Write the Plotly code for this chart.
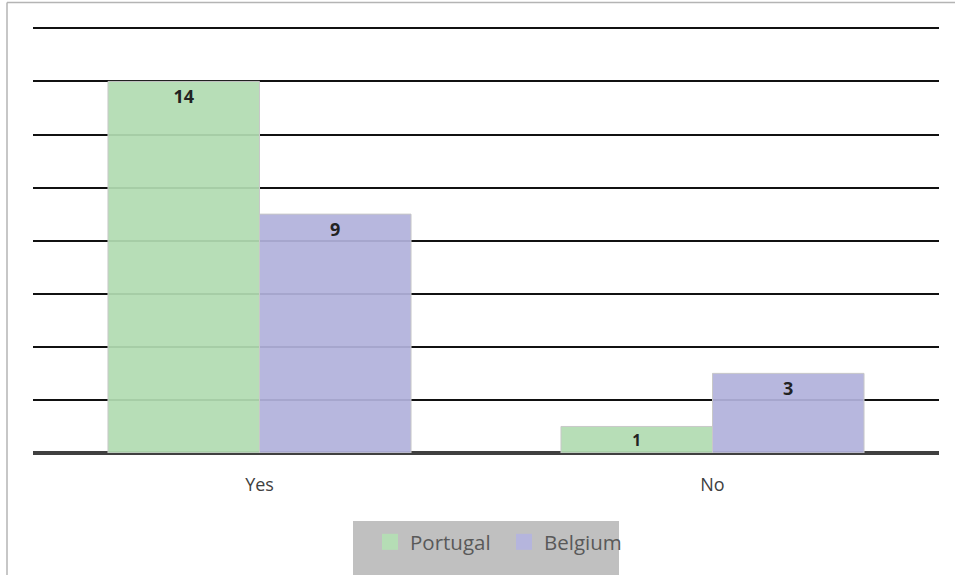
import plotly.graph_objects as go

categories = ["Yes", "No"]
portugal = [14, 1]
belgium = [9, 3]
series_names = ["Portugal", "Belgium"]
y_ticks = [0, 2, 4, 6, 8, 10, 12, 14, 16]

colors = ["rgba(178,220,178,0.93)", "rgba(178,178,220,0.93)"]
legend_colors = ["#b5ddb5", "#b5b5dd"]

W, H = 955, 575
L, R, T, B = 33, 16, 27, 122
pw, ph = W - L - R, H - T - B

def px_x(x):
    return (x - L) / pw

def px_y(y):
    return (H - B - y) / ph

fig = go.Figure()
for name, vals, col in zip(series_names, [portugal, belgium], colors):
    fig.add_trace(go.Bar(
        name=name, x=categories, y=vals, showlegend=False,
        marker=dict(color=col, line=dict(color="#c8c8c8", width=1)),
        text=vals, textposition="inside", insidetextanchor="end",
        textfont=dict(family="Open Sans", size=18, color="#222222", weight="bold"),
        textangle=0,
    ))
for name, col in zip(series_names, legend_colors):
    fig.add_trace(go.Scatter(
        name=name, x=[None], y=[None], mode="markers",
        marker=dict(symbol="square", size=18, color=col),
        showlegend=True,
    ))

shapes = [
    dict(type="rect", xref="paper", yref="paper",
         x0=px_x(353), x1=px_x(619), y0=px_y(521), y1=px_y(580),
         fillcolor="#c0c0c0", line=dict(width=0), layer="below"),
    dict(type="line", xref="paper", yref="paper",
         x0=px_x(7), x1=px_x(960), y0=px_y(2.5), y1=px_y(2.5),
         line=dict(color="#b4b4b4", width=1.5)),
    dict(type="line", xref="paper", yref="paper",
         x0=px_x(7), x1=px_x(7), y0=px_y(2.5), y1=px_y(580),
         line=dict(color="#b4b4b4", width=1.5)),
]

fig.update_layout(
    width=W, height=H,
    margin=dict(l=L, r=R, t=T, b=B),
    paper_bgcolor="white", plot_bgcolor="white",
    barmode="group", bargap=0.331, bargroupgap=0,
    font=dict(family="Open Sans", color="#404040"),
    shapes=shapes,
    showlegend=True,
    legend=dict(orientation="h", x=px_x(370), xanchor="left",
                y=px_y(522), yanchor="top",
                bgcolor="rgba(0,0,0,0)",
                font=dict(family="Open Sans", size=20.5, color="#595959"),
                itemwidth=30, entrywidth=89, traceorder="normal"),
    xaxis=dict(showgrid=False, showline=False, ticks="",
               tickfont=dict(family="Open Sans", size=18, color="#404040"),
               ticklabelstandoff=19),
    yaxis=dict(range=[0, 16.05], tickvals=y_ticks, showticklabels=False,
               showgrid=True, gridcolor="#111111", gridwidth=2,
               zeroline=True, zerolinecolor="#404040", zerolinewidth=3.5,
               showline=False, ticks=""),
)

fig.write_html("out.html")
